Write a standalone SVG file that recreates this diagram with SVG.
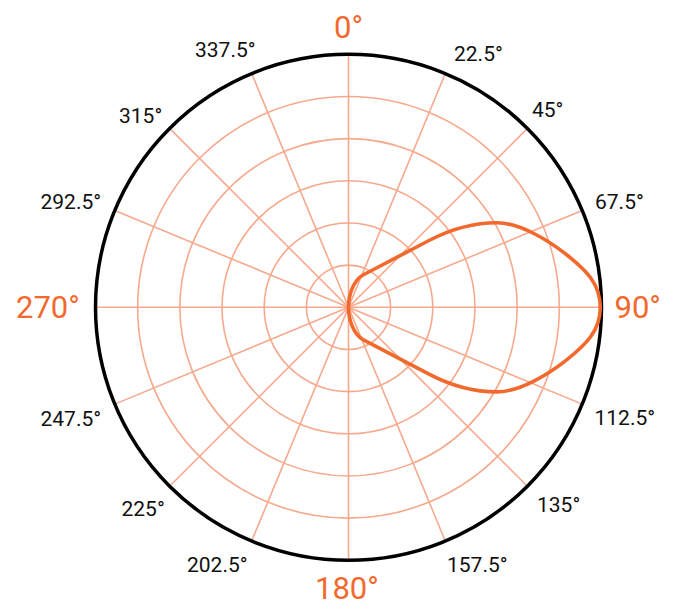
<svg xmlns="http://www.w3.org/2000/svg" width="679" height="616" viewBox="0 0 679 616">
  <style>
    .grid { fill: none; stroke: #F6A98D; stroke-width: 1.6; }
    .rim { fill: none; stroke: #000000; stroke-width: 3.5; }
    .pattern { fill: none; stroke: #F2692E; stroke-width: 3.6; stroke-linejoin: round; }
    .lbl { font-family: Roboto, "Liberation Sans", sans-serif; font-size: 21px; fill: #111111; }
    .big { font-family: Roboto, "Liberation Sans", sans-serif; font-size: 31px; fill: #F2692E; }
  </style>
  <rect x="0" y="0" width="679" height="616" fill="#ffffff"/>
  <g id="rings">
    <circle class="grid" cx="348.5" cy="307.3" r="42.17"/>
    <circle class="grid" cx="348.5" cy="307.3" r="84.33"/>
    <circle class="grid" cx="348.5" cy="307.3" r="126.5"/>
    <circle class="grid" cx="348.5" cy="307.3" r="168.67"/>
    <circle class="grid" cx="348.5" cy="307.3" r="210.83"/>
  </g>
  <g id="spokes">
    <line class="grid" x1="348.5" y1="54.3" x2="348.5" y2="560.3"/>
    <line class="grid" x1="445.32" y1="73.56" x2="251.68" y2="541.04"/>
    <line class="grid" x1="527.40" y1="128.40" x2="169.60" y2="486.20"/>
    <line class="grid" x1="582.24" y1="210.48" x2="114.76" y2="404.12"/>
    <line class="grid" x1="601.5" y1="307.3" x2="95.5" y2="307.3"/>
    <line class="grid" x1="582.24" y1="404.12" x2="114.76" y2="210.48"/>
    <line class="grid" x1="527.40" y1="486.20" x2="169.60" y2="128.40"/>
    <line class="grid" x1="445.32" y1="541.04" x2="251.68" y2="73.56"/>
  </g>
  <g id="outer-circle">
    <circle class="rim" cx="348.5" cy="307.3" r="253"/>
  </g>
  <g id="pattern-curve">
    <path class="pattern" d="M348.5,307.3 C348.5,294 354,280 363,275 L430,240 C455,227 475,222.7 497,222.7 C520,222.7 549,240.7 567,255 C586,270 600.3,284 600.3,307.3 C600.3,330.6 586,344.6 567,359.6 C549,373.9 520,391.9 497,391.9 C475,391.9 455,387.6 430,374.6 L363,339.6 C354,334.6 348.5,320.6 348.5,307.3 Z"/>
  </g>
  <g id="labels">
    <text class="big" x="334" y="38.3">0°</text>
    <text class="big" x="614.5" y="318.3">90°</text>
    <text class="big" x="315" y="599">180°</text>
    <text class="big" x="16" y="318">270°</text>
    <text class="lbl" x="454" y="61">22.5°</text>
    <text class="lbl" x="532" y="116.7">45°</text>
    <text class="lbl" x="595" y="209.3">67.5°</text>
    <text class="lbl" x="594.5" y="425">112.5°</text>
    <text class="lbl" x="537" y="511.7">135°</text>
    <text class="lbl" x="447" y="571.7">157.5°</text>
    <text class="lbl" x="187" y="571.7">202.5°</text>
    <text class="lbl" x="121.5" y="515.7">225°</text>
    <text class="lbl" x="40.5" y="425.5">247.5°</text>
    <text class="lbl" x="40.5" y="209.3">292.5°</text>
    <text class="lbl" x="119" y="123.3">315°</text>
    <text class="lbl" x="195" y="56.7">337.5°</text>
  </g>
</svg>
